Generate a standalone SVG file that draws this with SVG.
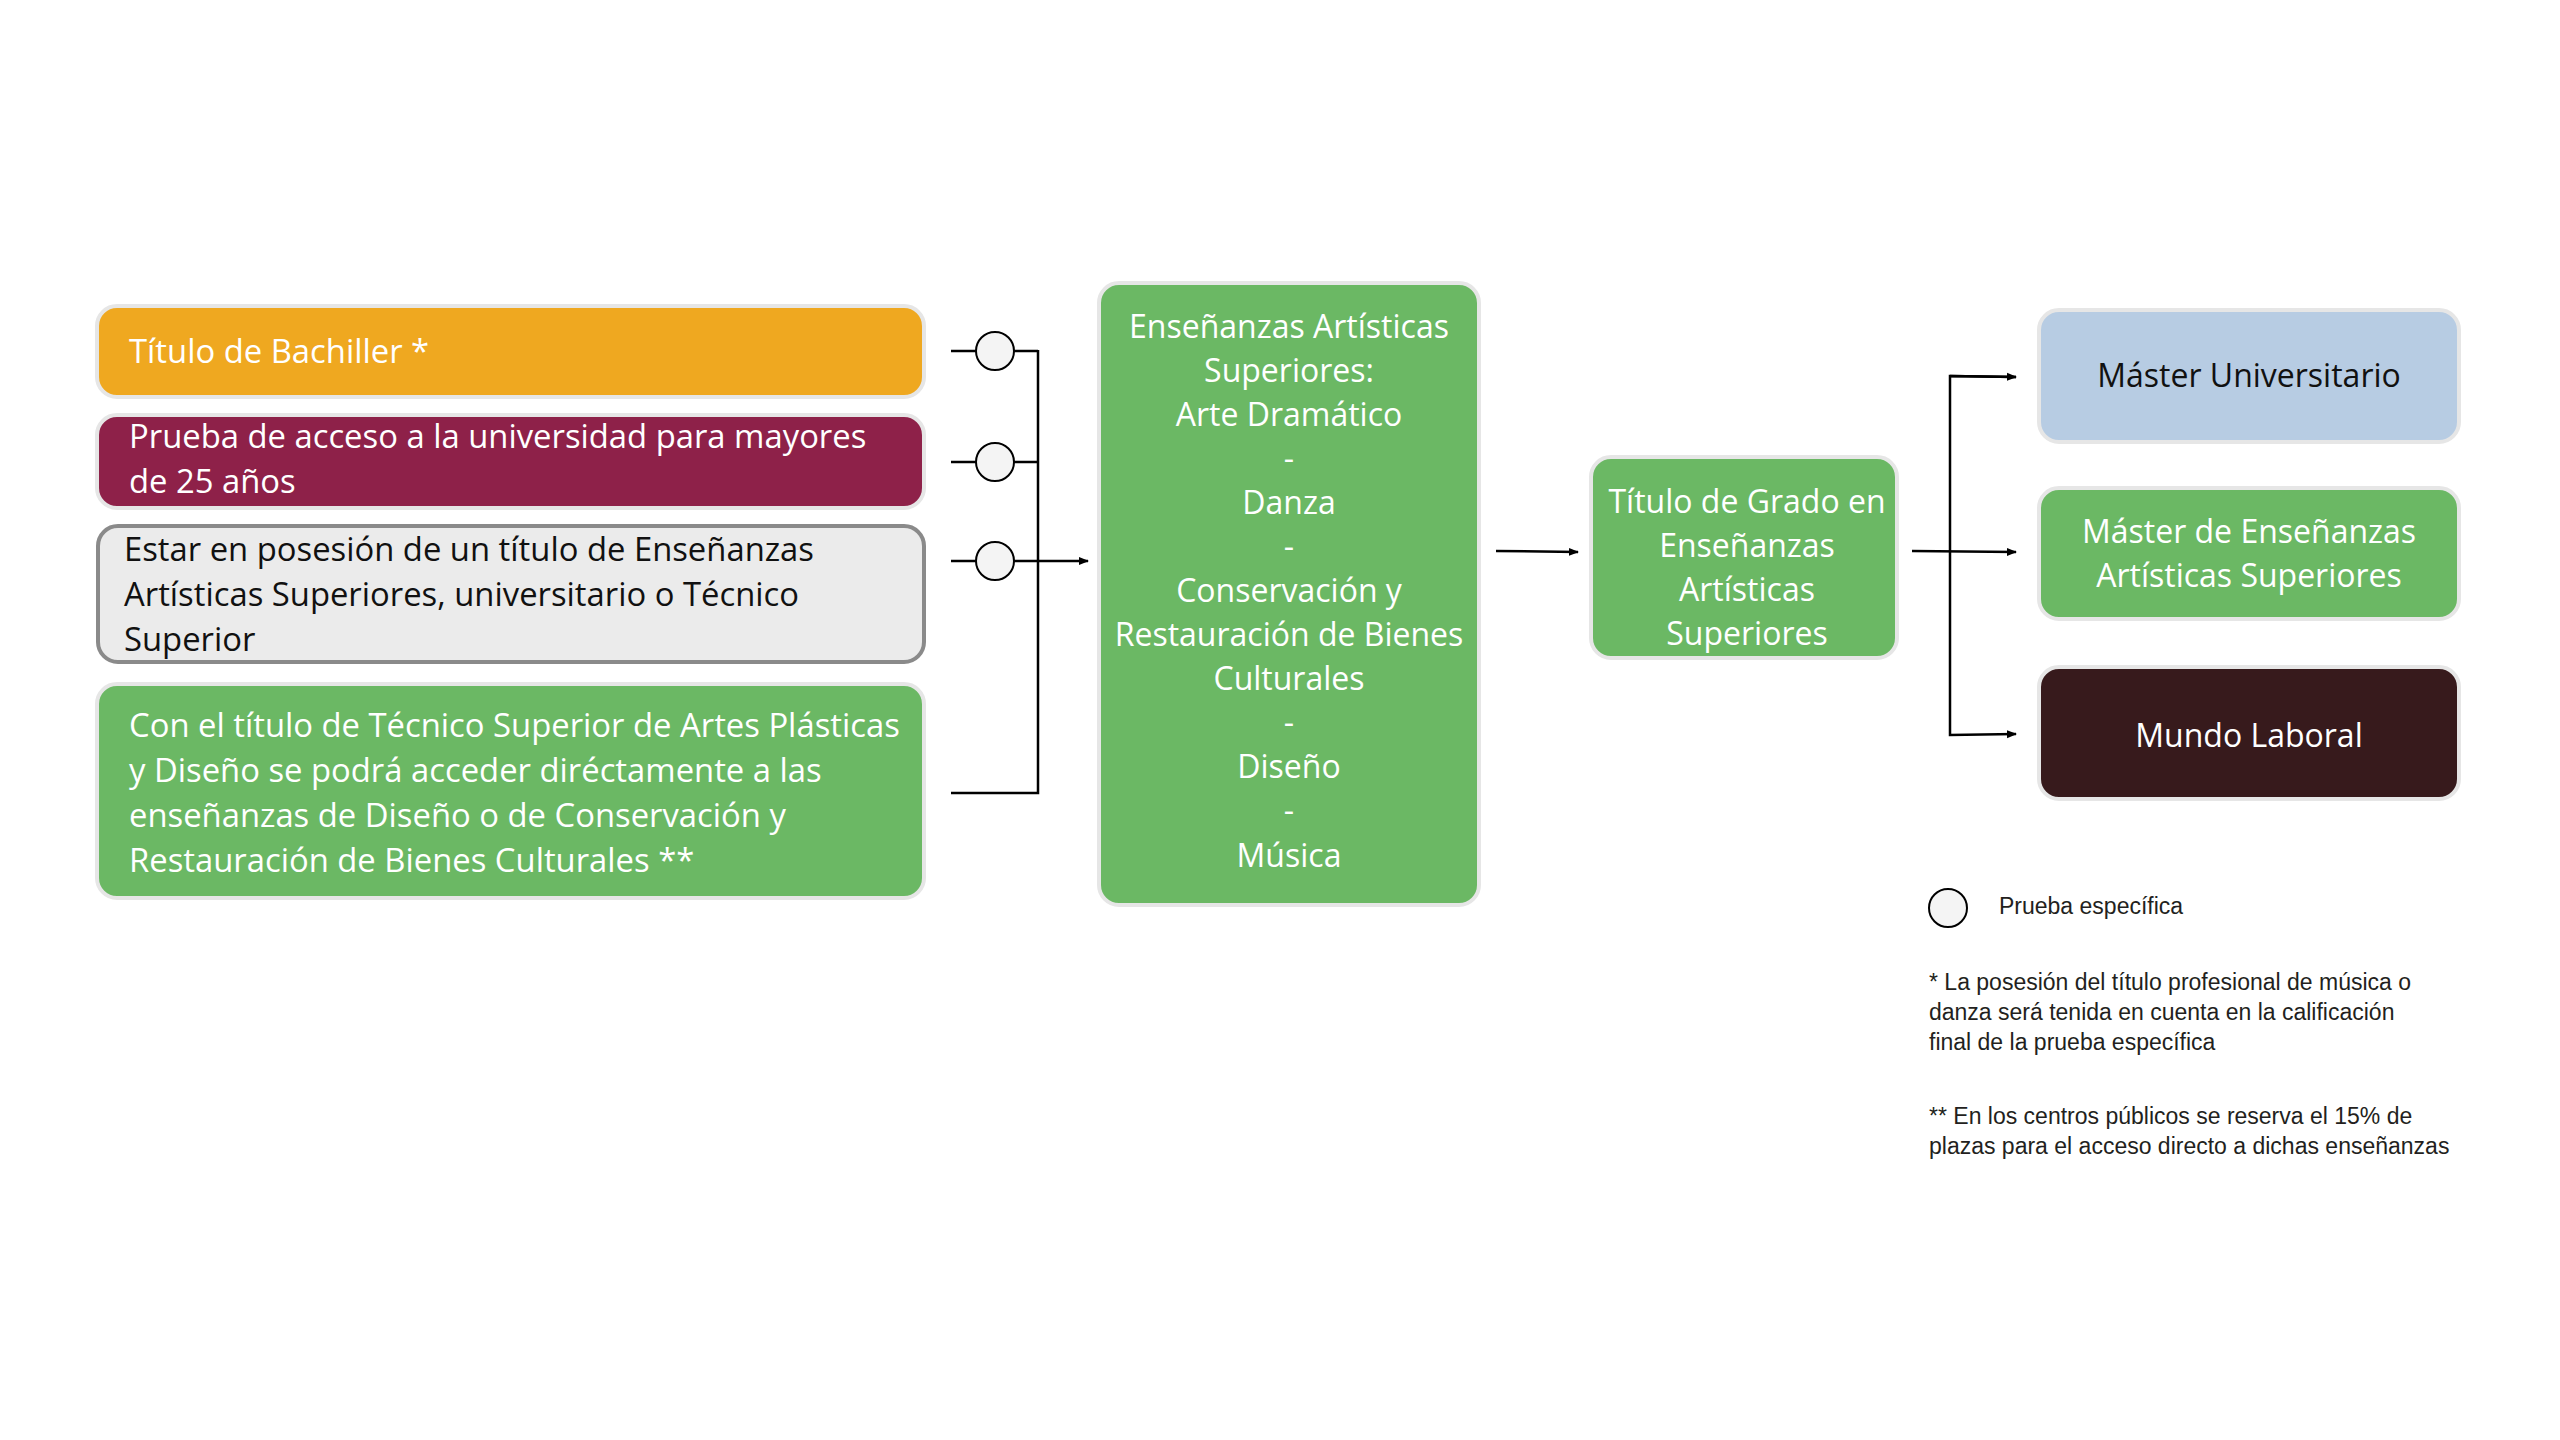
<svg xmlns="http://www.w3.org/2000/svg" width="2560" height="1440" viewBox="0 0 2560 1440">
<defs>
<marker id="arr" viewBox="0 0 10 10" refX="9" refY="5" markerWidth="10" markerHeight="10" markerUnits="userSpaceOnUse" orient="auto">
<path d="M0,1 L10,5 L0,9 z" fill="#000"/>
</marker>
<style>
.box{stroke:#e6e6e6;stroke-width:4}
.t{font-family:"Open Sans","Noto Sans",sans-serif;font-size:32px;fill:#fff}
.l{font-size:32.8px}
.dk{fill:#111}
.c{text-anchor:middle}
.ln{stroke:#000;stroke-width:2.5;fill:none}
.circ{fill:#f4f4f4;stroke:#000;stroke-width:2}
.n{font-family:"Liberation Sans",Arial,sans-serif;font-size:23px;fill:#231f20}
</style>
</defs>
<rect width="2560" height="1440" fill="#fff"/>
<g id="connectors">
<line class="ln" x1="951" y1="351" x2="1038" y2="351"/>
<line class="ln" x1="951" y1="462" x2="1038" y2="462"/>
<line class="ln" x1="951" y1="561" x2="1088" y2="561" marker-end="url(#arr)"/>
<polyline class="ln" points="951,793 1038,793 1038,350"/>
<circle class="circ" cx="995" cy="351" r="19"/>
<circle class="circ" cx="995" cy="462" r="19"/>
<circle class="circ" cx="995" cy="561" r="19"/>
<line class="ln" x1="1496" y1="551" x2="1578" y2="552" marker-end="url(#arr)"/>
<line class="ln" x1="1912" y1="551" x2="2016" y2="552" marker-end="url(#arr)"/>
<polyline class="ln" points="2016,377 1950,376 1950,735 2016,734" marker-end="url(#arr)"/>
<line class="ln" x1="1950" y1="376" x2="2016" y2="377" marker-end="url(#arr)"/>
</g>
<g id="n-bachiller">
<rect class="box" x="97" y="306" width="827" height="91" rx="20" fill="#efa820"/>
<text class="t l" x="129" y="363">Título de Bachiller *</text>
</g>
<g id="n-prueba25">
<rect class="box" x="97" y="415" width="827" height="93" rx="20" fill="#8e2149"/>
<text class="t l" x="129" y="448">Prueba de acceso a la universidad para mayores</text>
<text class="t l" x="129" y="493">de 25 años</text>
</g>
<g id="n-titulo">
<rect x="98" y="526" width="826" height="136" rx="20" fill="#ebebeb" stroke="#8a8a8a" stroke-width="4"/>
<text class="t l dk" x="124" y="561">Estar en posesión de un título de Enseñanzas</text>
<text class="t l dk" x="124" y="606">Artísticas Superiores, universitario o Técnico</text>
<text class="t l dk" x="124" y="651">Superior</text>
</g>
<g id="n-tecnico">
<rect class="box" x="97" y="684" width="827" height="214" rx="20" fill="#6bb864"/>
<text class="t l" x="129" y="737">Con el título de Técnico Superior de Artes Plásticas</text>
<text class="t l" x="129" y="782">y Diseño se podrá acceder diréctamente a las</text>
<text class="t l" x="129" y="827">enseñanzas de Diseño o de Conservación y</text>
<text class="t l" x="129" y="872">Restauración de Bienes Culturales **</text>
</g>
<g id="n-eas">
<rect class="box" x="1099" y="283" width="380" height="622" rx="20" fill="#6bb864"/>
<text class="t c" x="1289" y="338">Enseñanzas Artísticas</text>
<text class="t c" x="1289" y="382">Superiores:</text>
<text class="t c" x="1289" y="426">Arte Dramático</text>
<text class="t c" x="1289" y="470">-</text>
<text class="t c" x="1289" y="514">Danza</text>
<text class="t c" x="1289" y="558">-</text>
<text class="t c" x="1289" y="602">Conservación y</text>
<text class="t c" x="1289" y="646">Restauración de Bienes</text>
<text class="t c" x="1289" y="690">Culturales</text>
<text class="t c" x="1289" y="734">-</text>
<text class="t c" x="1289" y="778">Diseño</text>
<text class="t c" x="1289" y="822">-</text>
<text class="t c" x="1289" y="867">Música</text>
</g>
<g id="n-grado">
<rect class="box" x="1591" y="457" width="306" height="201" rx="20" fill="#6bb864"/>
<text class="t c" x="1747" y="513">Título de Grado en</text>
<text class="t c" x="1747" y="557">Enseñanzas</text>
<text class="t c" x="1747" y="601">Artísticas</text>
<text class="t c" x="1747" y="645">Superiores</text>
</g>
<g id="n-master-univ">
<rect class="box" x="2039" y="310" width="420" height="132" rx="20" fill="#b7cce3"/>
<text class="t c dk" x="2249" y="387">Máster Universitario</text>
</g>
<g id="n-master-eas">
<rect class="box" x="2039" y="488" width="420" height="131" rx="20" fill="#6bb864"/>
<text class="t c" x="2249" y="543">Máster de Enseñanzas</text>
<text class="t c" x="2249" y="587">Artísticas Superiores</text>
</g>
<g id="n-laboral">
<rect class="box" x="2039" y="667" width="420" height="132" rx="20" fill="#371a1c"/>
<text class="t c" x="2249" y="747">Mundo Laboral</text>
</g>
<g id="legend">
<circle class="circ" cx="1948" cy="908" r="19"/>
<text class="n" x="1999" y="914">Prueba específica</text>
<text class="n" x="1929" y="990">* La posesión del título profesional de música o</text>
<text class="n" x="1929" y="1020">danza será tenida en cuenta en la calificación</text>
<text class="n" x="1929" y="1050">final de la prueba específica</text>
<text class="n" x="1929" y="1124">** En los centros públicos se reserva el 15% de</text>
<text class="n" x="1929" y="1154">plazas para el acceso directo a dichas enseñanzas</text>
</g>
</svg>
